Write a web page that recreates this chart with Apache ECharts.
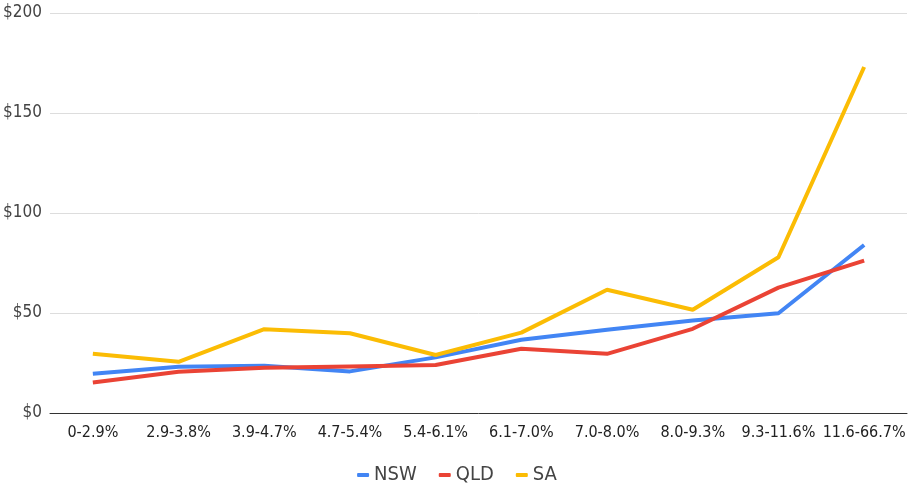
<!DOCTYPE html>
<html>
<head>
<meta charset="utf-8">
<script src="https://cdn.jsdelivr.net/npm/echarts@6/dist/echarts.min.js"></script>
<style>
  html, body { margin: 0; padding: 0; background: #fff; }
  #chart { width: 914px; height: 486px; }
</style>
</head>
<body>
<div id="chart"></div>
<script>
// Income-share bands on the x axis
const categories = ['0-2.9%', '2.9-3.8%', '3.9-4.7%', '4.7-5.4%', '5.4-6.1%',
                    '6.1-7.0%', '7.0-8.0%', '8.0-9.3%', '9.3-11.6%', '11.6-66.7%'];

// Dollar values per state
const nsw = [19.6, 23.1, 23.6, 20.8, 27.8, 36.6, 41.6, 46.2, 49.9, 84.0];
const qld = [15.3, 20.6, 22.6, 23.3, 24.0, 32.1, 29.6, 42.1, 62.7, 76.2];
const sa  = [29.6, 25.6, 41.9, 39.9, 29.0, 40.2, 61.6, 51.6, 77.9, 173.0];

const yTicks = [0, 50, 100, 150, 200];

const font = '"DejaVu Sans Condensed", "DejaVu Sans", sans-serif';
const chart = echarts.init(document.getElementById('chart'), null, { renderer: 'canvas' });

const mkSeries = (name, data, color) => ({
  name, type: 'line', data,
  symbol: 'none',
  lineStyle: { width: 4, color },
  itemStyle: { color },
  animation: false
});

chart.setOption({
  animation: false,
  color: ['#4285F4', '#EA4335', '#FBBC04'],
  grid: { left: 50, right: 7, top: 13, bottom: 73, containLabel: false },
  legend: {
    top: 460,
    left: 'center',
    icon: 'roundRect',
    itemWidth: 12,
    itemHeight: 4,
    itemGap: 22,
    textStyle: { fontFamily: font, fontSize: 20, color: '#444' },
    data: ['NSW', 'QLD', 'SA']
  },
  xAxis: {
    type: 'category',
    data: categories,
    boundaryGap: true,
    axisLine: { lineStyle: { color: '#333', width: 1 } },
    axisTick: { show: false },
    axisLabel: { fontFamily: font, fontSize: 16, color: '#222', margin: 12, interval: 0 }
  },
  yAxis: {
    type: 'value',
    min: yTicks[0],
    max: yTicks[yTicks.length - 1],
    interval: 50,
    axisLine: { show: false },
    axisTick: { show: false },
    splitLine: { lineStyle: { color: '#ddd', width: 1 } },
    axisLabel: {
      fontFamily: font, fontSize: 17, color: '#444', margin: 8,
      formatter: v => '$' + v
    }
  },
  series: [
    mkSeries('NSW', nsw, '#4285F4'),
    mkSeries('QLD', qld, '#EA4335'),
    mkSeries('SA', sa, '#FBBC04')
  ]
});
</script>
</body>
</html>
